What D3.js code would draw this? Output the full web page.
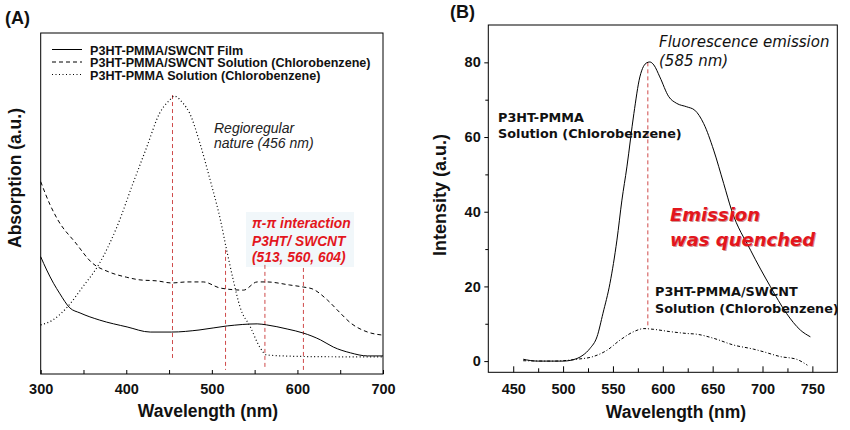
<!DOCTYPE html>
<html><head><meta charset="utf-8">
<script src="https://cdn.jsdelivr.net/npm/d3@7"></script>
<style>
html,body{margin:0;padding:0;background:#fff;}
svg{display:block;}
</style></head>
<body>
<svg id="chart" width="850" height="430"></svg>
<script>
// ---------- Panel A: absorption (arbitrary units) ----------
const filmWl   = [300,307,315,322,334,346,369,401,428,453,485,518,553,564,588,607,627,642,662,682,700];
const filmAbs  = [34.4,30.5,26.6,23.7,19.4,17.9,15.8,13.8,12.3,12.3,12.9,14.1,14.7,14.4,13.2,12.0,10.0,7.9,6.2,5.3,5.3];

const swcntSolWl  = [300,311,320,341,360,380,400,416,436,453,471,490,510,537,553,564,591,607,618,635,650,662,682,700];
const swcntSolAbs = [56.4,49.6,45.2,38.4,32.6,29.9,28.4,27.6,27.3,26.7,27.0,27.0,25.2,24.6,27.0,27.0,26.1,25.5,24.9,21.7,17.9,15.0,12.3,11.4];

const pmmaSolWl  = [300,314,331,349,369,389,408,424,439,451,456,466,474,486,498,510,518,525,533,545,556,564,583,620,700];
const pmmaSolAbs = [14.4,15.8,19.6,25.5,32.6,43.1,56.0,66.6,76.5,80.4,81.5,79.5,76.5,67.7,56.9,45.2,35.5,27.6,19.6,13.8,7.9,5.6,5.3,5.1,5.0];

const legendA = ["P3HT-PMMA/SWCNT Film","P3HT-PMMA/SWCNT Solution (Chlorobenzene)","P3HT-PMMA Solution (Chlorobenzene)"];
const markersA    = [454,516,562,607];
const markerTopsA = [81.8,36.4,32.0,31.1];
const markerBotsA = [4.7,1.2,1.2,1.2];
const xTicksA = [300,400,500,600,700];
const xMinorA = [350,450,550,650];

// ---------- Panel B: fluorescence intensity ----------
const pmmaFlWl  = [460,474,500,514,520,527,534,540,547,554,559,564,571,577,584,587,591,597,606,614,624,632,641,651,661,669,688,708,724,738,748];
const pmmaFlInt = [0.5,0,0,0.7,1.6,3.4,6.5,12.8,20.8,32.4,43.1,52.0,66.3,76.1,79.9,80.1,79.3,76.1,70.8,69.0,68.1,67.2,63.6,56.5,47.6,40.4,29.7,19.9,12.8,8.3,6.5];

const swcntFlWl  = [460,490,514,530,544,557,571,581,591,607,624,634,651,671,691,701,718,734,745];
const swcntFlInt = [0.1,0,0.5,1.2,2.9,5.6,7.9,8.7,8.5,7.9,7.4,7.2,6.1,4.3,3.2,2.5,1.2,0.5,-1.1];

const markerB = 585, markerBTop = 80, markerBBot = 8.7;
const xTicksB = [450,500,550,600,650,700,750];
const xMinorB = [475,525,575,625,675,725];
const yTicksB = [0,20,40,60,80];
const yMinorB = [10,30,50,70];

const svg = d3.select("#chart");
const SANS = "'Liberation Sans', Arial, sans-serif";
const DEJA = "'DejaVu Sans', Verdana, sans-serif";
const RED = "#e3161d";
const REDLINE = "#cf4a4a";

// ---------- scales ----------
const xA = d3.scaleLinear().domain([300,700]).range([40.7,383]);
const yA = d3.scaleLinear().domain([0,100]).range([374,33]);
const xB = d3.scaleLinear().domain([425,775]).range([488.3,837.3]);
const yB = d3.scaleLinear().domain([-3,90]).range([372.3,25]);

function drawLine(g, xs, ys, sx, sy, dash, w){
  const pts = xs.map((x,i)=>[x, ys[i]]);
  g.append("path")
    .datum(pts)
    .attr("fill","none").attr("stroke","#000").attr("stroke-width", w||1)
    .attr("stroke-dasharray", dash||null)
    .attr("d", d3.line().x(d=>sx(d[0])).y(d=>sy(d[1])).curve(d3.curveMonotoneX));
}

// ===== Panel A =====
const gA = svg.append("g");
gA.append("rect").attr("x",xA.range()[0]).attr("y",yA.range()[1])
  .attr("width",xA.range()[1]-xA.range()[0]).attr("height",yA.range()[0]-yA.range()[1])
  .attr("fill","none").attr("stroke","#000").attr("stroke-width",1);

gA.append("rect").attr("x",246).attr("y",212).attr("width",108).attr("height",55).attr("fill","#f1f7fa");

markersA.forEach((m,i)=>{
  gA.append("line").attr("x1",xA(m)).attr("x2",xA(m)).attr("y1",yA(markerTopsA[i])).attr("y2",yA(markerBotsA[i]))
    .attr("stroke",REDLINE).attr("stroke-width",1).attr("stroke-dasharray","4,3");
});

drawLine(gA, filmWl, filmAbs, xA, yA, null, 1);
drawLine(gA, swcntSolWl, swcntSolAbs, xA, yA, "4,3", 1);
drawLine(gA, pmmaSolWl, pmmaSolAbs, xA, yA, "1,2.5", 1.2);

const axA = gA.append("g").attr("transform",`translate(0,${yA.range()[0]})`)
  .call(d3.axisBottom(xA).tickValues(xTicksA).tickSize(-4).tickPadding(9.6).tickFormat(d3.format("d")));
axA.select(".domain").remove();
axA.selectAll("text").attr("font-family",SANS).attr("font-weight","bold").attr("font-size","14.5px").attr("fill","#111");
const axAm = gA.append("g").attr("transform",`translate(0,${yA.range()[0]})`)
  .call(d3.axisBottom(xA).tickValues(xMinorA).tickSize(-4).tickFormat(""));
axAm.select(".domain").remove();

gA.append("text").attr("x",208).attr("y",417).attr("text-anchor","middle")
  .attr("font-family",SANS).attr("font-weight","bold").attr("font-size","17.5px").attr("fill","#111")
  .text("Wavelength (nm)");
gA.append("text").attr("transform","translate(21,178) rotate(-90)").attr("text-anchor","middle")
  .attr("font-family",SANS).attr("font-weight","bold").attr("font-size","17.5px").attr("fill","#111")
  .text("Absorption (a.u.)");
gA.append("text").attr("x",5).attr("y",24)
  .attr("font-family",SANS).attr("font-weight","bold").attr("font-size","18px").attr("fill","#111")
  .text("(A)");

const legRowY = [49.5,62,74.5];
const legDash = [null,"4,3","1,2.5"];
legendA.forEach((t,i)=>{
  gA.append("line").attr("x1",52).attr("x2",82).attr("y1",legRowY[i]).attr("y2",legRowY[i])
    .attr("stroke","#000").attr("stroke-width",1).attr("stroke-dasharray",legDash[i]);
  gA.append("text").attr("x",90).attr("y",legRowY[i]+5)
    .attr("font-family",SANS).attr("font-weight","bold").attr("font-size","12.6px").attr("fill","#111")
    .text(t);
});

gA.append("text").attr("x",214).attr("y",133).attr("font-family",SANS).attr("font-style","italic")
  .attr("font-size","14px").attr("fill","#222").text("Regioregular");
gA.append("text").attr("x",214).attr("y",148).attr("font-family",SANS).attr("font-style","italic")
  .attr("font-size","14px").attr("fill","#222").text("nature (456 nm)");
["π-π interaction","P3HT/ SWCNT","(513, 560, 604)"].forEach((t,i)=>{
  gA.append("text").attr("x",252).attr("y",[228,245.5,261.5][i]).attr("font-family",SANS)
    .attr("font-style","italic").attr("font-weight","bold").attr("font-size","13.8px").attr("fill",RED).text(t);
});

// ===== Panel B =====
const gB = svg.append("g");
gB.append("rect").attr("x",xB.range()[0]).attr("y",yB.range()[1])
  .attr("width",xB.range()[1]-xB.range()[0]).attr("height",yB.range()[0]-yB.range()[1])
  .attr("fill","none").attr("stroke","#000").attr("stroke-width",1);

gB.append("line").attr("x1",xB(markerB)).attr("x2",xB(markerB)).attr("y1",yB(markerBTop)).attr("y2",yB(markerBBot))
  .attr("stroke",REDLINE).attr("stroke-width",1).attr("stroke-dasharray","4,3");

drawLine(gB, pmmaFlWl, pmmaFlInt, xB, yB, null, 1);
drawLine(gB, swcntFlWl, swcntFlInt, xB, yB, "3,2,1,2", 1);

const axB = gB.append("g").attr("transform",`translate(0,${yB.range()[0]})`)
  .call(d3.axisBottom(xB).tickValues(xTicksB).tickSize(-6).tickPadding(11.3).tickFormat(d3.format("d")));
axB.select(".domain").remove();
axB.selectAll("text").attr("font-family",SANS).attr("font-weight","bold").attr("font-size","14.5px").attr("fill","#111");
const axBm = gB.append("g").attr("transform",`translate(0,${yB.range()[0]})`)
  .call(d3.axisBottom(xB).tickValues(xMinorB).tickSize(-4).tickFormat(""));
axBm.select(".domain").remove();

const ayB = gB.append("g").attr("transform",`translate(${xB.range()[0]},0)`)
  .call(d3.axisLeft(yB).tickValues(yTicksB).tickSize(4).tickPadding(3.6).tickFormat(d3.format("d")));
ayB.select(".domain").remove();
ayB.selectAll("text").attr("font-family",SANS).attr("font-weight","bold").attr("font-size","14.5px").attr("fill","#111");
const ayBm = gB.append("g").attr("transform",`translate(${xB.range()[0]},0)`)
  .call(d3.axisLeft(yB).tickValues(yMinorB).tickSize(3).tickFormat(""));
ayBm.select(".domain").remove();

gB.append("text").attr("x",676).attr("y",418).attr("text-anchor","middle")
  .attr("font-family",SANS).attr("font-weight","bold").attr("font-size","17.5px").attr("fill","#111")
  .text("Wavelength (nm)");
gB.append("text").attr("transform","translate(446,195) rotate(-90)").attr("text-anchor","middle")
  .attr("font-family",SANS).attr("font-weight","bold").attr("font-size","18px").attr("fill","#111")
  .text("Intensity (a.u.)");
gB.append("text").attr("x",450).attr("y",18)
  .attr("font-family",SANS).attr("font-weight","bold").attr("font-size","18px").attr("fill","#111")
  .text("(B)");

gB.append("text").attr("x",659).attr("y",46.5).attr("font-family",DEJA).attr("font-style","italic")
  .attr("font-size","15px").attr("fill","#111").text("Fluorescence emission");
gB.append("text").attr("x",659).attr("y",66).attr("font-family",DEJA).attr("font-style","italic")
  .attr("font-size","15px").attr("fill","#111").text("(585 nm)");
gB.append("text").attr("x",498).attr("y",121.7).attr("font-family",DEJA).attr("font-weight","bold")
  .attr("font-size","12.8px").attr("fill","#111").text("P3HT-PMMA");
gB.append("text").attr("x",498).attr("y",138).attr("font-family",DEJA).attr("font-weight","bold")
  .attr("font-size","12.8px").attr("fill","#111").text("Solution (Chlorobenzene)");
gB.append("text").attr("x",655).attr("y",296).attr("font-family",DEJA).attr("font-weight","bold")
  .attr("font-size","12.8px").attr("fill","#111").text("P3HT-PMMA/SWCNT");
gB.append("text").attr("x",655).attr("y",313).attr("font-family",DEJA).attr("font-weight","bold")
  .attr("font-size","12.8px").attr("fill","#111").text("Solution (Chlorobenzene)");

["Emission","was quenched"].forEach((t,i)=>{
  gB.append("text").attr("x",670).attr("y",[221,245.5][i]).attr("font-family",DEJA)
    .attr("font-style","italic").attr("font-weight","bold").attr("font-size","18px").attr("fill",RED)
    .style("text-shadow","1px 1px 0 rgba(150,16,16,0.45)").text(t);
});
</script>
</body></html>
